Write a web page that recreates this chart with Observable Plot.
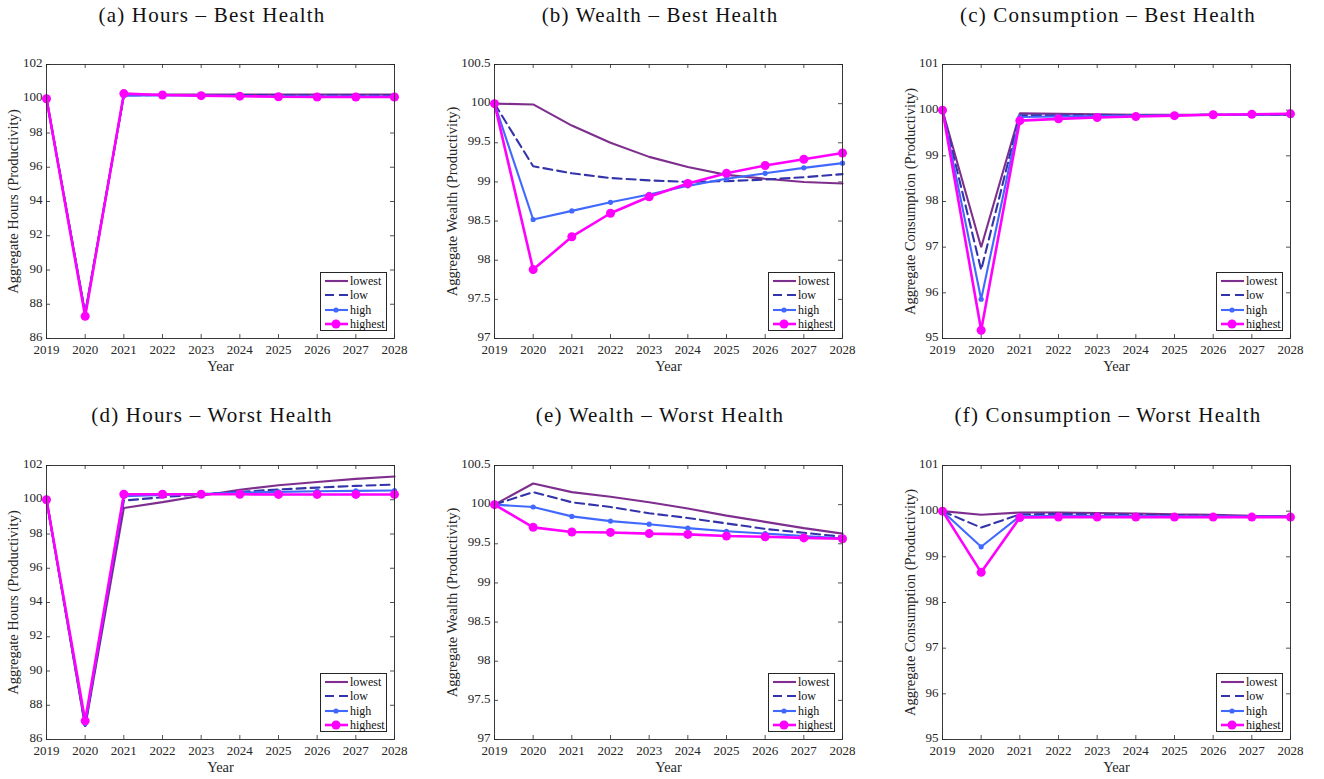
<!DOCTYPE html>
<html><head><meta charset="utf-8">
<script src="https://cdn.jsdelivr.net/npm/d3@7"></script>
<script src="https://cdn.jsdelivr.net/npm/@observablehq/plot@0.6"></script>
<style>
body{margin:0;background:#fff;}
#root{position:relative;width:1324px;height:779px;overflow:hidden;font-family:"Liberation Serif",serif;color:#262626;background:#fff;}
.panel{position:absolute;}
.title{position:absolute;transform:translate(-50%,-50%);font-size:21px;letter-spacing:1.2px;white-space:nowrap;color:#111;}
.legend{position:absolute;border:1px solid #262626;background:#fff;font-size:12px;box-sizing:border-box;}
.legend .row{position:absolute;left:0;height:14px;line-height:14px;}
.legend svg{position:absolute;left:3px;top:0;}
.legend span{position:absolute;left:29px;top:0;white-space:nowrap;color:#111;}
</style></head><body><div id="root"></div>
<script>
// ---------------- data ----------------
const years = [2019, 2020, 2021, 2022, 2023, 2024, 2025, 2026, 2027, 2028];
const seriesNames = ["lowest", "low", "high", "highest"];
const seriesColors = ["#7E2F8E", "#3333AA", "#4169FF", "#FF00FF"];

const hoursTicks = [86, 88, 90, 92, 94, 96, 98, 100, 102];
const wealthTicks = [97, 97.5, 98, 98.5, 99, 99.5, 100, 100.5];
const consTicks = [95, 96, 97, 98, 99, 100, 101];

// rows: lowest, low, high, highest
const hoursBest = [
  [100, 87.5, 100.2, 100.25, 100.25, 100.25, 100.25, 100.25, 100.25, 100.25],
  [100, 87.45, 100.2, 100.22, 100.22, 100.22, 100.21, 100.2, 100.2, 100.2],
  [100, 87.4, 100.18, 100.2, 100.18, 100.17, 100.15, 100.15, 100.14, 100.13],
  [100, 87.3, 100.3, 100.22, 100.18, 100.15, 100.12, 100.1, 100.1, 100.1]
];
const wealthBest = [
  [100, 99.99, 99.72, 99.5, 99.32, 99.19, 99.09, 99.04, 99.0, 98.98],
  [100, 99.2, 99.11, 99.05, 99.02, 99.0, 99.01, 99.03, 99.06, 99.1],
  [100, 98.52, 98.63, 98.74, 98.84, 98.95, 99.04, 99.11, 99.18, 99.24],
  [100, 97.88, 98.3, 98.6, 98.81, 98.98, 99.11, 99.21, 99.29, 99.37]
];
const consBest = [
  [100, 97.0, 99.93, 99.92, 99.91, 99.9, 99.9, 99.9, 99.9, 99.9],
  [100, 96.5, 99.89, 99.89, 99.89, 99.89, 99.89, 99.9, 99.9, 99.9],
  [100, 95.86, 99.85, 99.86, 99.87, 99.88, 99.89, 99.9, 99.9, 99.91],
  [100, 95.18, 99.77, 99.81, 99.84, 99.86, 99.88, 99.9, 99.91, 99.92]
];
const hoursWorst = [
  [100, 86.74, 99.52, 99.86, 100.23, 100.58, 100.85, 101.04, 101.22, 101.36],
  [100, 86.83, 99.95, 100.15, 100.32, 100.46, 100.6, 100.71, 100.81, 100.89],
  [100, 86.93, 100.2, 100.28, 100.34, 100.42, 100.46, 100.5, 100.52, 100.54],
  [100, 87.09, 100.32, 100.32, 100.32, 100.32, 100.31, 100.31, 100.31, 100.31]
];
const wealthWorst = [
  [100, 100.27, 100.16, 100.1, 100.03, 99.95, 99.86, 99.78, 99.7, 99.63],
  [100, 100.16, 100.03, 99.97, 99.89, 99.83, 99.76, 99.69, 99.64, 99.59],
  [100, 99.97, 99.85, 99.79, 99.75, 99.7, 99.66, 99.63, 99.6, 99.57],
  [100, 99.71, 99.65, 99.645, 99.63, 99.62, 99.6, 99.59, 99.575, 99.565]
];
const consWorst = [
  [100, 99.92, 99.97, 99.97, 99.96, 99.95, 99.93, 99.92, 99.9, 99.89],
  [100, 99.64, 99.93, 99.94, 99.93, 99.92, 99.91, 99.9, 99.89, 99.88],
  [100, 99.22, 99.89, 99.9, 99.9, 99.9, 99.89, 99.89, 99.88, 99.88],
  [100, 98.66, 99.86, 99.87, 99.87, 99.87, 99.87, 99.87, 99.87, 99.87]
];

const panels = [
  {title: "(a) Hours – Best Health", ylabel: "Aggregate Hours (Productivity)", values: hoursBest, ticks: hoursTicks, row: 0, col: 0},
  {title: "(b) Wealth – Best Health", ylabel: "Aggregate Wealth (Productivity)", values: wealthBest, ticks: wealthTicks, row: 0, col: 1},
  {title: "(c) Consumption – Best Health", ylabel: "Aggregate Consumption (Productivity)", values: consBest, ticks: consTicks, row: 0, col: 2},
  {title: "(d) Hours – Worst Health", ylabel: "Aggregate Hours (Productivity)", values: hoursWorst, ticks: hoursTicks, row: 1, col: 0},
  {title: "(e) Wealth – Worst Health", ylabel: "Aggregate Wealth (Productivity)", values: wealthWorst, ticks: wealthTicks, row: 1, col: 1},
  {title: "(f) Consumption – Worst Health", ylabel: "Aggregate Consumption (Productivity)", values: consWorst, ticks: consTicks, row: 1, col: 2}
];

// ---------------- layout ----------------
const frameLeft = [46, 494, 942];
const colStart = [0, 440, 890];
const ylabelCenter = [13, 452, 910];
const frameTop = [64, 465];
const titleY = [15, 415];
const FW = 348, FH = 274, MT = 10, MB = 40, MR = 12;
const styles = [
  {w: 2.1, dash: null, r: 0},
  {w: 2.1, dash: "9,5", r: 0},
  {w: 2.1, dash: null, r: 2.6},
  {w: 2.6, dash: null, r: 4.5}
];
const ink = "#262626";
const root = document.getElementById("root");

panels.forEach(p => {
  const ML = frameLeft[p.col] - colStart[p.col];
  const data = [];
  p.values.forEach((arr, si) => arr.forEach((v, i) => data.push({year: years[i], value: v, series: seriesNames[si], si})));
  const marks = [
    Plot.ruleX(years, {x: d => d, insetTop: FH - 4, stroke: ink, strokeWidth: 0.8}),
    Plot.ruleX(years, {x: d => d, insetBottom: FH - 4, stroke: ink, strokeWidth: 0.8}),
    Plot.ruleY(p.ticks, {y: d => d, insetRight: FW - 4, stroke: ink, strokeWidth: 0.8}),
    Plot.ruleY(p.ticks, {y: d => d, insetLeft: FW - 4, stroke: ink, strokeWidth: 0.8}),
    Plot.axisX({ticks: years, tickFormat: d => String(d), tickSize: 0, tickPadding: 6, label: null, fontSize: 13}),
    Plot.axisY({ticks: p.ticks, tickFormat: d => String(d), tickSize: 0, tickPadding: 4, dy: -1.5, label: null, fontSize: 13}),
    Plot.text(["Year"], {frameAnchor: "bottom", dy: 28, text: d => d, fontSize: 14.5, lineAnchor: "middle", textAnchor: "middle", fill: ink}),
    Plot.text([p.ylabel], {frameAnchor: "left", dx: -(frameLeft[p.col] - ylabelCenter[p.col]), rotate: -90, text: d => d, fontSize: 14.5, lineAnchor: "middle", textAnchor: "middle", fill: ink})
  ];
  seriesNames.forEach((s, si) => {
    const sd = data.filter(d => d.si === si);
    const st = styles[si];
    marks.push(Plot.line(sd, {x: "year", y: "value", stroke: seriesColors[si], strokeWidth: st.w, strokeDasharray: st.dash, strokeLinejoin: "miter"}));
    if (st.r > 0) marks.push(Plot.dot(sd, {x: "year", y: "value", r: st.r, fill: seriesColors[si], stroke: "none"}));
  });
  marks.push(Plot.frame({stroke: ink, strokeWidth: 0.9}));

  const chart = Plot.plot({
    width: ML + FW + MR, height: MT + FH + MB,
    marginLeft: ML, marginRight: MR, marginTop: MT, marginBottom: MB,
    x: {domain: [2019, 2028]},
    y: {domain: [p.ticks[0], p.ticks[p.ticks.length - 1]]},
    style: {fontFamily: "Liberation Serif, serif", fontSize: "13px", color: ink, background: "transparent", overflow: "visible"},
    marks
  });
  const div = document.createElement("div");
  div.className = "panel";
  div.style.left = colStart[p.col] + "px";
  div.style.top = (frameTop[p.row] - MT) + "px";
  div.appendChild(chart);
  root.appendChild(div);

  const t = document.createElement("div");
  t.className = "title";
  t.textContent = p.title;
  t.style.left = (frameLeft[p.col] + 166) + "px";
  t.style.top = titleY[p.row] + "px";
  root.appendChild(t);

  // legend
  const lg = document.createElement("div");
  lg.className = "legend";
  const LW = 67, LH = 59;
  lg.style.width = LW + "px"; lg.style.height = LH + "px";
  lg.style.left = (frameLeft[p.col] + FW - 7 - LW) + "px";
  lg.style.top = (frameTop[p.row] + FH - 7 - LH) + "px";
  seriesNames.forEach((s, si) => {
    const row = document.createElement("div");
    row.className = "row";
    row.style.top = (1 + si * 14.3) + "px";
    const st = styles[si];
    const dot = st.r > 0 ? `<circle cx="12" cy="7" r="${st.r}" fill="${seriesColors[si]}"/>` : "";
    row.innerHTML = `<svg width="25" height="14"><line x1="1" x2="24" y1="7" y2="7" stroke="${seriesColors[si]}" stroke-width="${st.w}" ${st.dash ? `stroke-dasharray="${st.dash}"` : ""}/>${dot}</svg><span>${s}</span>`;
    lg.appendChild(row);
  });
  root.appendChild(lg);
});
</script></body></html>
